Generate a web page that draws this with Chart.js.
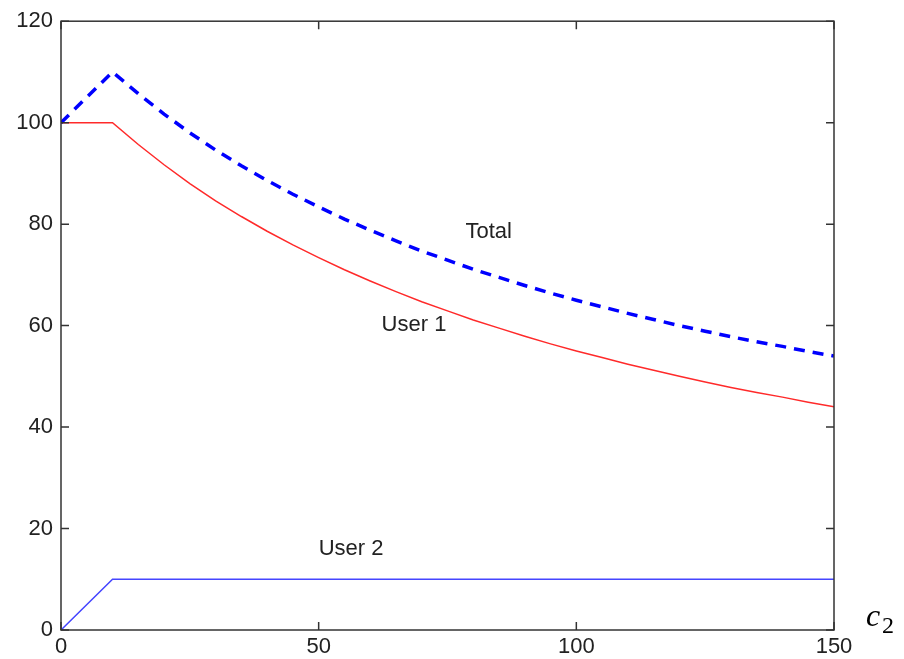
<!DOCTYPE html>
<html>
<head>
<meta charset="utf-8">
<script src="https://cdn.jsdelivr.net/npm/chart.js@4.4.1/dist/chart.umd.min.js"></script>
<style>
  html, body { margin: 0; padding: 0; background: #fff; }
  #wrap { width: 904px; height: 659px; position: relative; }
</style>
</head>
<body>
<div id="wrap"><canvas id="c" width="904" height="659"></canvas></div>
<script>
// ---- data ----
const cValues = [0, 10, 15, 20, 25, 30, 35, 40, 45, 50, 55, 60, 65, 70, 75, 80, 85, 90, 95, 100, 105, 110, 115, 120, 125, 130, 135, 140, 145, 150];
const user1 = [100, 100, 95.7, 91.7, 88.0, 84.6, 81.5, 78.6, 75.9, 73.4, 71.0, 68.8, 66.7, 64.7, 62.9, 61.1, 59.5, 57.9, 56.4, 55.0, 53.7, 52.4, 51.2, 50.0, 48.9, 47.8, 46.8, 45.9, 44.9, 44.0];
const user2 = [0, 10, 10, 10, 10, 10, 10, 10, 10, 10, 10, 10, 10, 10, 10, 10, 10, 10, 10, 10, 10, 10, 10, 10, 10, 10, 10, 10, 10, 10];
const total = [100, 110, 105.7, 101.7, 98.0, 94.6, 91.5, 88.6, 85.9, 83.4, 81.0, 78.8, 76.7, 74.7, 72.9, 71.1, 69.5, 67.9, 66.4, 65.0, 63.7, 62.4, 61.2, 60.0, 58.9, 57.8, 56.8, 55.9, 54.9, 54.0];
const xTicks = [0, 50, 100, 150];
const yTicks = [0, 20, 40, 60, 80, 100, 120];
const curveLabels = [
  { text: 'Total', x: 83, y: 78.5 },
  { text: 'User 1', x: 68.5, y: 60.1 },
  { text: 'User 2', x: 56.3, y: 16 }
];
const xAxisTitle = { main: 'c', sub: '2' };

const toPts = (arr) => arr.map((v, i) => ({ x: cValues[i], y: v }));

const frameTicks = {
  id: 'frameTicks',
  afterDatasetsDraw(chart) {
    const { ctx, chartArea: a, scales } = chart;
    const xs = scales.x, ys = scales.y;
    ctx.save();
    ctx.strokeStyle = '#333';
    ctx.lineWidth = 1.5;
    ctx.strokeRect(a.left, a.top, a.right - a.left, a.bottom - a.top);
    const L = 8;
    ctx.beginPath();
    xTicks.forEach(v => {
      const px = xs.getPixelForValue(v);
      ctx.moveTo(px, a.bottom); ctx.lineTo(px, a.bottom - L);
      ctx.moveTo(px, a.top); ctx.lineTo(px, a.top + L);
    });
    yTicks.forEach(v => {
      const py = ys.getPixelForValue(v);
      ctx.moveTo(a.left, py); ctx.lineTo(a.left + L, py);
      ctx.moveTo(a.right, py); ctx.lineTo(a.right - L, py);
    });
    ctx.stroke();

    ctx.fillStyle = '#222';
    ctx.font = '22px "Liberation Sans", Arial, sans-serif';
    ctx.textAlign = 'center';
    ctx.textBaseline = 'middle';
    curveLabels.forEach(l => {
      ctx.fillText(l.text, xs.getPixelForValue(l.x), ys.getPixelForValue(l.y));
    });

    ctx.fillStyle = '#000';
    ctx.textAlign = 'left';
    ctx.textBaseline = 'alphabetic';
    ctx.font = 'italic 32px "Liberation Serif", "DejaVu Serif", serif';
    ctx.fillText(xAxisTitle.main, a.right + 32, a.bottom - 4);
    ctx.font = '24px "Liberation Serif", "DejaVu Serif", serif';
    ctx.fillText(xAxisTitle.sub, a.right + 48, a.bottom + 3);
    ctx.restore();
  }
};

new Chart(document.getElementById('c'), {
  type: 'line',
  data: {
    datasets: [
      { label: 'Total', data: toPts(total), borderColor: '#0000ff', borderWidth: 3.5, borderDash: [11, 8], pointRadius: 0, fill: false, tension: 0 },
      { label: 'User 1', data: toPts(user1), borderColor: '#ff2a2a', borderWidth: 1.5, pointRadius: 0, fill: false, tension: 0 },
      { label: 'User 2', data: toPts(user2), borderColor: '#4545ff', borderWidth: 1.5, pointRadius: 0, fill: false, tension: 0 }
    ]
  },
  options: {
    responsive: false,
    animation: false,
    devicePixelRatio: 1,
    layout: { padding: { left: 0, right: 70, top: 19, bottom: 0 } },
    plugins: { legend: { display: false }, tooltip: { enabled: false } },
    scales: {
      x: {
        type: 'linear', min: 0, max: 150,
        afterBuildTicks(s) { s.ticks = xTicks.map(v => ({ value: v })); },
        afterFit(s) { s.height = 29; },
        grid: { display: false, drawTicks: false },
        border: { display: false },
        ticks: { color: '#222', font: { size: 22, family: '"Liberation Sans", Arial, sans-serif' }, padding: 4, maxRotation: 0, autoSkip: false }
      },
      y: {
        type: 'linear', min: 0, max: 120,
        afterBuildTicks(s) { s.ticks = yTicks.map(v => ({ value: v })); },
        afterFit(s) { s.width = 61; },
        grid: { display: false, drawTicks: false },
        border: { display: false },
        ticks: { color: '#222', font: { size: 22, family: '"Liberation Sans", Arial, sans-serif' }, padding: 8, autoSkip: false }
      }
    }
  },
  plugins: [frameTicks]
});
</script>
</body>
</html>
